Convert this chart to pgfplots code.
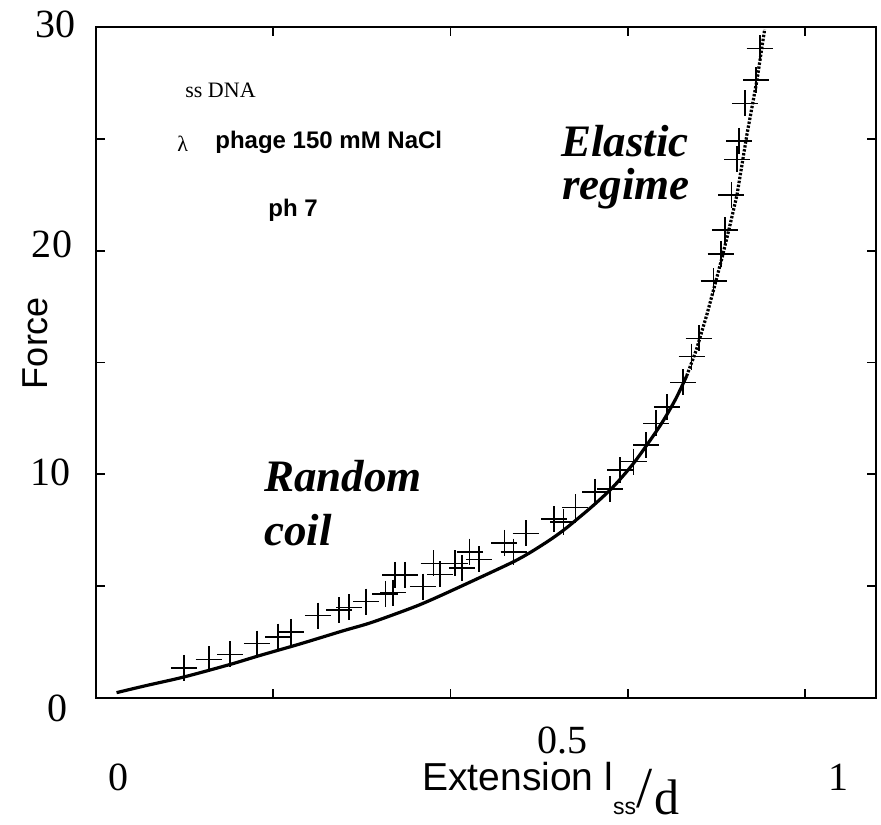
\documentclass[border=0pt]{standalone}
\usepackage{fontspec}
\setmainfont{Liberation Serif}
\newfontfamily\arial{Liberation Sans}
\usepackage{pgfplots}
\usepackage{pgfplotstable}
\pgfplotsset{compat=1.18}

% worm-like-chain style fit through the force--extension data
\pgfplotstableread{
x      F
0.029  0.24
0.070  0.55
0.124  0.94
0.189  1.50
0.231  1.90
0.288  2.42
0.348  3.00
0.384  3.33
0.419  3.72
0.455  4.15
0.489  4.62
0.541  5.38
0.588  6.08
0.612  6.50
0.636  6.98
0.652  7.33
0.668  7.72
0.701  8.60
0.729  9.43
0.757  10.45
0.781  11.50
0.800  12.40
0.818  13.40
0.833  14.40
}\fitlow
\pgfplotstableread{
x      F
0.833  14.40
0.847  15.60
0.862  17.20
0.873  18.50
0.883  19.70
0.893  21.00
0.904  22.50
0.918  25.20
0.932  27.60
0.943  29.90
}\fithigh

% measured ssDNA points
\pgfplotstableread{
x      F
0.124  1.35
0.159  1.73
0.189  1.95
0.227  2.43
0.257  2.74
0.275  2.96
0.313  3.68
0.343  3.93
0.357  4.05
0.381  4.31
0.408  4.65
0.419  4.71
0.422  5.50
0.436  5.50
0.461  4.98
0.476  6.02
0.485  5.53
0.506  6.02
0.516  5.80
0.527  6.54
0.540  6.20
0.576  6.94
0.589  6.54
0.606  7.36
0.646  7.99
0.659  7.88
0.676  8.52
0.704  9.22
0.725  9.34
0.739  10.19
0.758  10.57
0.776  11.31
0.790  12.28
0.805  13.00
0.828  14.11
0.840  15.26
0.850  16.08
0.871  18.64
0.881  19.85
0.887  20.92
0.896  22.49
0.904  24.08
0.907  24.91
0.915  26.58
0.931  27.63
0.936  29.04
}\measured

\begin{document}
\begin{tikzpicture}
\useasboundingbox (-48pt,-63pt) rectangle (392.5pt,349pt);
\begin{axis}[
  at={(0,0)}, anchor=south west,
  scale only axis, width=390pt, height=335.5pt,
  xmin=0, xmax=1.1, ymin=0, ymax=30,
  xtick={0.25,0.5,0.75,1}, ytick={5,10,...,25},
  xticklabels={}, yticklabels={},
  major tick length=4.5pt,
  tick style={black, line width=0.9pt},
  axis line style={black, line width=1pt},
  clip=false,
]
\addplot[black, line width=1.6pt, smooth, tension=0.5] table[x=x, y=F] {\fitlow};
\addplot[black, line width=1.6pt, dash pattern=on 1.2pt off 0.8pt] table[x=x, y=F] {\fithigh};
\addplot[only marks, mark=+, mark size=6.5pt, black, mark options={line width=0.8pt}] table[x=x, y=F] {\measured};
\end{axis}

% tick numbers
\begin{scope}[font=\fontsize{20}{20}\selectfont]
\node at (-20.5pt,337pt) {30};
\node at (-22pt,227pt) {20};
\node at (-23pt,113pt) {10};
\node at (-19pt,-5pt) {0};
\node at (11pt,-39.5pt) {0};
\node at (233pt,-21pt) {0.5};
\node at (371pt,-39.5pt) {1};
\end{scope}

% axis titles
\node[rotate=90, font=\arial\fontsize{18}{18}\selectfont] at (-30.5pt,177.5pt) {Force};
\node[anchor=base west, inner sep=0pt] at (163pt,-46pt) {%
  {\arial\fontsize{19.5}{19.5}\selectfont Extension l}%
  \raisebox{-12pt}{\arial\fontsize{11.5}{11.5}\selectfont ss}%
  \raisebox{-8.5pt}{\fontsize{29}{29}\selectfont /}\kern1pt%
  \raisebox{-12pt}{\fontsize{25}{25}\selectfont d}};

% sample description
\node[anchor=base west, inner sep=0pt, font=\fontsize{11}{11}\selectfont] at (44.5pt,300pt) {ss DNA};
\node[anchor=base west, inner sep=0pt, font=\fontsize{11}{11}\selectfont] at (40.5pt,273pt) {λ};
\node[anchor=base west, inner sep=0pt, font=\arial\bfseries\fontsize{12}{12}\selectfont] at (59.5pt,274.5pt) {phage 150 mM NaCl};
\node[anchor=base west, inner sep=0pt, font=\arial\bfseries\fontsize{12}{12}\selectfont] at (86pt,240.5pt) {ph 7};

% regimes
\begin{scope}[font=\bfseries\itshape\fontsize{22.5}{22.5}\selectfont, inner sep=0pt]
\node[anchor=base east] at (296.5pt,270.5pt) {Elastic};
\node[anchor=base east] at (297pt,249pt) {regime};
\node[anchor=base west] at (84pt,103pt) {Random};
\node[anchor=base west] at (84pt,76.5pt) {coil};
\end{scope}
\end{tikzpicture}
\end{document}
